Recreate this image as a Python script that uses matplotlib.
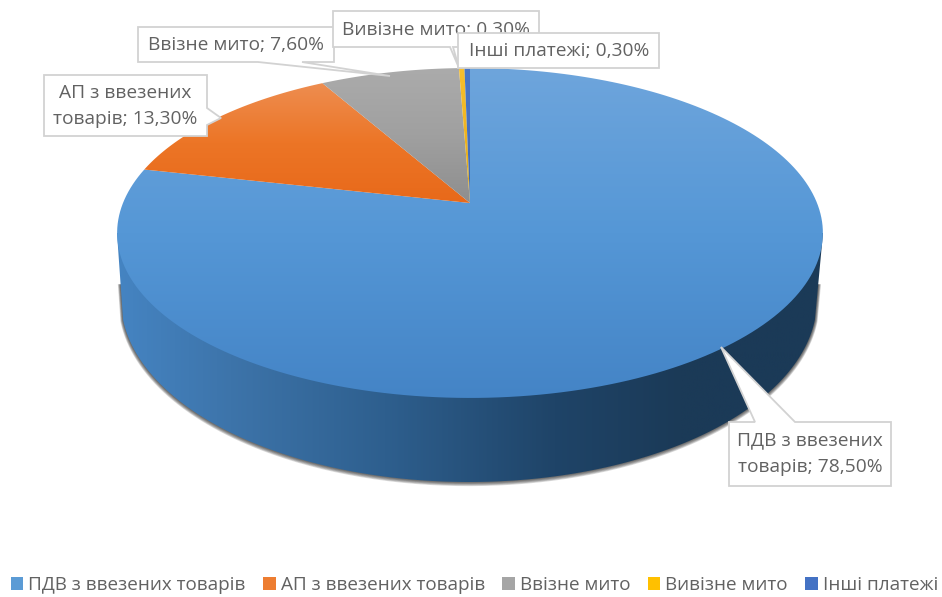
import numpy as np
import matplotlib
matplotlib.use("Agg")
import matplotlib.pyplot as plt
from matplotlib.colors import LinearSegmentedColormap
from matplotlib.patches import Polygon, Rectangle

plt.rcParams['font.family'] = ['Open Sans', 'DejaVu Sans']

categories = ["ПДВ з ввезених товарів", "АП з ввезених товарів", "Ввізне мито",
              "Вивізне мито", "Інші платежі"]
values = [78.5, 13.3, 7.6, 0.3, 0.3]
legend_colors = ["#5b9bd5", "#ed7d31", "#a5a5a5", "#ffc000", "#4472c4"]
# colours down each slice's gradient
slice_colors = [["#6ea5dc", "#5597d6", "#4484c6"],
                ["#ee8d50", "#ec7526", "#e8691a"],
                ["#ababab", "#a0a0a0", "#8e8e8e"],
                ["#f8c030", "#f0b420", "#d8a818"],
                ["#4a78c8", "#4470c0", "#3a66b0"]]

# pie geometry in pixels: apex, perspective and depth
apex_x, apex_y = 470, 203
a, b, k = 347, 159.5, 0.1818
low_cx, low_cy, low_a, low_b = 469, 300, 348, 182


def project(t):
    # t is clockwise from the top, the circle is tilted in perspective
    d = 1 + k * np.cos(t)
    return apex_x + a * np.sin(t) / d, apex_y - b * np.cos(t) / d


fig = plt.figure(figsize=(9.42, 5.97), dpi=100)
ax = fig.add_axes([0, 0, 1, 1])

# side of the disc, straight from the top rim down to the lower curve
ts = np.linspace(0.11, np.pi - 0.11, 220)
curve_x = low_cx + low_a * np.cos(ts)
curve_y = low_cy + low_b * np.sin(ts)
side_x = np.r_[823, curve_x, 117]
side_y = np.r_[233, curve_y, 233]

# soft shadow under the lower edge, it fades out part way up the straight bits
shadow_x = np.r_[823 * 0.4 + curve_x[0] * 0.6, curve_x, 117 * 0.4 + curve_x[-1] * 0.6]
shadow_y = np.r_[233 * 0.4 + curve_y[0] * 0.6, curve_y, 233 * 0.4 + curve_y[-1] * 0.6]
for i in range(6):
    ax.plot(shadow_x, shadow_y + 0.3 * i, color="#202020", alpha=0.16, lw=0.8 + i * 0.6, zorder=1)

side = np.column_stack([side_x, side_y])
side_cmap = LinearSegmentedColormap.from_list(
    "side", [(0, "#4584c2"), (0.16, "#3d74aa"), (0.38, "#2e5f8e"),
             (0.62, "#1f4468"), (0.8, "#1b3a57"), (1, "#1b3a57")])
img = ax.imshow(np.linspace(0, 1, 256)[None, :], cmap=side_cmap, aspect="auto",
                extent=(117, 823, 490, 220), zorder=2)
img.set_clip_path(Polygon(side, transform=ax.transData))

# top of the disc, one clipped gradient for each slice
ends = np.cumsum(values) / np.sum(values) * 2 * np.pi
starts = np.r_[0, ends[:-1]]
for i in range(len(values)):
    t = np.linspace(starts[i], ends[i], 200)
    x, y = project(t)
    pts = np.column_stack([np.r_[apex_x, x], np.r_[apex_y, y]])
    cmap = LinearSegmentedColormap.from_list("s%d" % i, slice_colors[i])
    im = ax.imshow(np.linspace(0, 1, 256)[:, None], cmap=cmap, aspect="auto",
                   extent=(pts[:, 0].min(), pts[:, 0].max(), pts[:, 1].max(), pts[:, 1].min()),
                   zorder=3 + i * 0.01)
    im.set_clip_path(Polygon(pts, transform=ax.transData))


def label_text(i, wrap=None):
    name = categories[i]
    if wrap:
        name = name.replace(wrap, wrap.rstrip() + "\n", 1)
    return "%s; %s%%" % (name, ("%.2f" % values[i]).replace(".", ","))


def callout(pts, tx, ty, text, z):
    ax.add_patch(Polygon(pts, closed=True, facecolor="white", edgecolor="#d2d2d2",
                         lw=1.3, zorder=z))
    ax.text(tx, ty, text, ha="center", va="center", fontsize=13.8, color="#626262",
            linespacing=1.62, zorder=z + 0.1)


callout([(729, 422), (755, 422), (721, 347), (795, 422), (891, 422), (891, 486), (729, 486)],
        810, 454, label_text(0, "ввезених "), 10)
callout([(44, 75), (207, 75), (207, 108), (221, 118), (207, 125), (207, 136), (44, 136)],
        125, 106, label_text(1, "ввезених "), 11)
callout([(138, 27), (334, 27), (334, 62), (302, 62), (390, 76), (258, 62), (138, 62)],
        236, 45, label_text(2), 12)
callout([(333, 11), (539, 11), (539, 47), (453, 47), (459, 68), (450, 47), (333, 47)],
        436, 30, label_text(3), 13)
callout([(458, 33), (659, 33), (659, 68), (458, 68)],
        559, 51, label_text(4), 14)

handles = [Rectangle((0, 0), 1, 1, facecolor=c) for c in legend_colors]
ax.legend(handles, categories, ncol=5, loc="center", bbox_to_anchor=(474.5, 585),
          bbox_transform=ax.transData, frameon=False, fontsize=13.6, labelcolor="#626262",
          handlelength=0.65, handleheight=0.65, handletextpad=0.27, columnspacing=0.93,
          borderpad=0, borderaxespad=0)

ax.set_xlim(0, 942)
ax.set_ylim(597, 0)
ax.axis("off")
fig.savefig("out.png", dpi=100, facecolor="white")
